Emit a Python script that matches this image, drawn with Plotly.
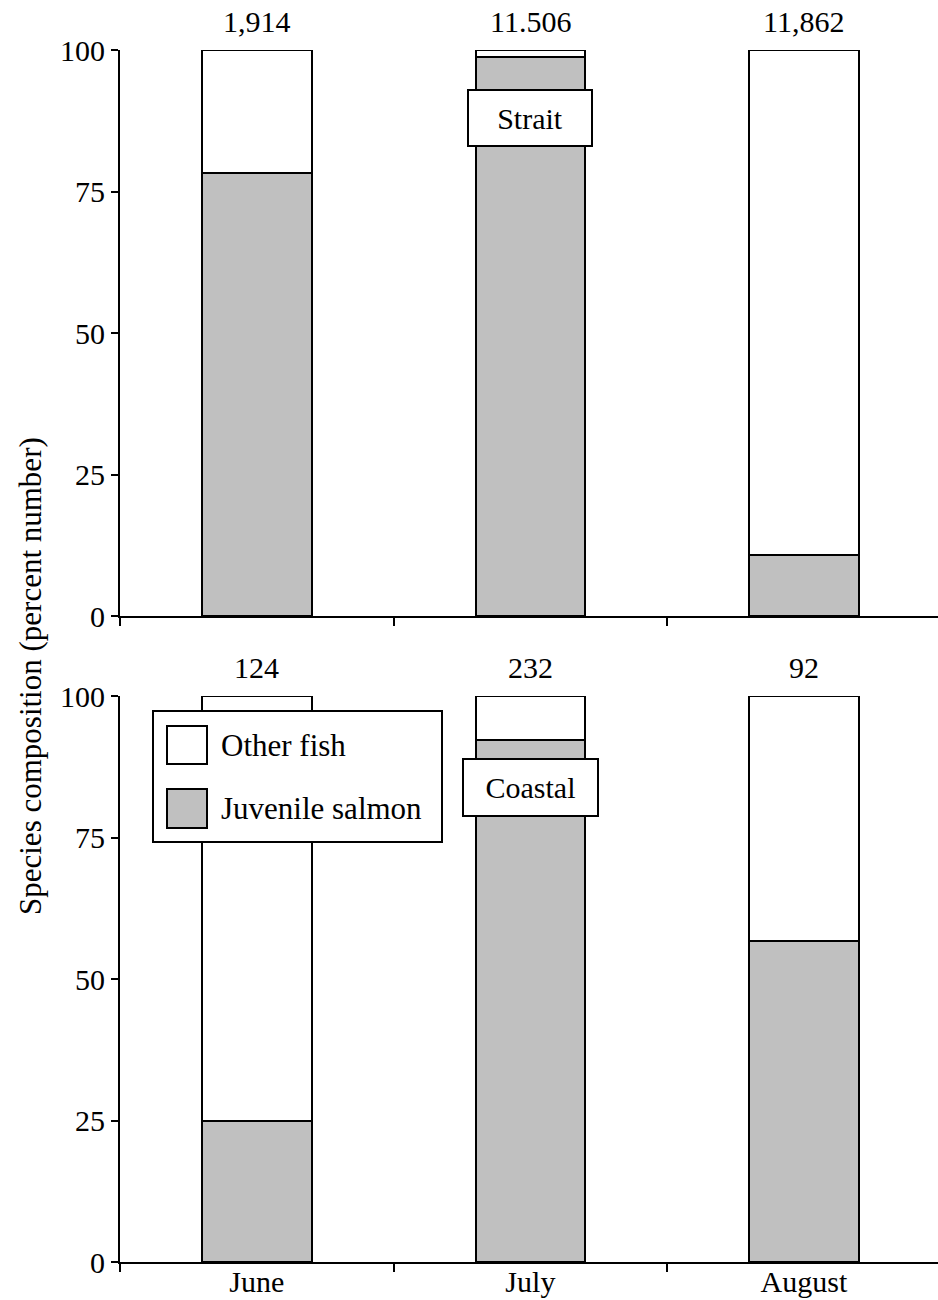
import plotly.graph_objects as go
from plotly.subplots import make_subplots

months = ["June", "July", "August"]
series_names = ["Other fish", "Juvenile salmon"]
strait_juvenile = [78.3, 98.8, 10.8]
coastal_juvenile = [25.0, 92.2, 56.7]
strait_counts = ["1,914", "11.506", "11,862"]
coastal_counts = ["124", "232", "92"]
panel_labels = ["Strait", "Coastal"]
y_ticks = [0, 25, 50, 75, 100]

W, H = 938, 1300
ML, MR, MT, MB = 120, 0, 50, 38
PW, PH = W - ML - MR, H - MT - MB
FONT = "Liberation Serif, Times New Roman, serif"
GRAY = "#c0c0c0"


def px(x):
    return (x - ML) / PW


def py(y):
    return 1 - (y - MT) / PH


fig = make_subplots(rows=2, cols=1)
xs = [0, 1, 2]
panels = [(strait_juvenile, strait_counts), (coastal_juvenile, coastal_counts)]
for i, (juv, counts) in enumerate(panels):
    row = i + 1
    other = [100 - v for v in juv]
    fig.add_trace(go.Bar(x=xs, y=juv, name=series_names[1], width=0.4,
                         marker=dict(color=GRAY, line=dict(color="black", width=2)),
                         showlegend=False), row=row, col=1)
    fig.add_trace(go.Bar(x=xs, y=other, name=series_names[0], width=0.4,
                         marker=dict(color="white", line=dict(color="black", width=2)),
                         showlegend=False), row=row, col=1)
    xref = "x" if i == 0 else "x2"
    yref = "y" if i == 0 else "y2"
    for x, c in zip(xs, counts):
        fig.add_annotation(x=x, y=100, xref=xref, yref=yref, text=c, showarrow=False,
                           yanchor="bottom", yshift=10, font=dict(size=30, color="black", family=FONT))

# panel label boxes
fig.add_annotation(x=1, y=88, xref="x", yref="y", text=panel_labels[0], showarrow=False,
                   bgcolor="white", bordercolor="black", borderwidth=2, borderpad=0,
                   width=122, height=54, font=dict(size=30, color="black", family=FONT))
fig.add_annotation(x=1, y=83.8, xref="x2", yref="y2", text=panel_labels[1], showarrow=False,
                   bgcolor="white", bordercolor="black", borderwidth=2, borderpad=0,
                   width=133, height=55, font=dict(size=30, color="black", family=FONT))

# legend drawn manually (large swatches)
fig.add_shape(type="rect", xref="paper", yref="paper", x0=px(153), x1=px(442), y0=py(842), y1=py(711),
              line=dict(color="black", width=2), fillcolor="white", layer="above")
sw = [("white", 726, 764, series_names[0]), (GRAY, 789, 828, series_names[1])]
for color, y0, y1, name in sw:
    fig.add_shape(type="rect", xref="paper", yref="paper", x0=px(167), x1=px(207), y0=py(y1), y1=py(y0),
                  line=dict(color="black", width=2), fillcolor=color, layer="above")
    fig.add_annotation(xref="paper", yref="paper", x=px(219), y=py((y0 + y1) / 2), text=name,
                       showarrow=False, xanchor="left", yanchor="middle",
                       font=dict(size=31, color="black", family=FONT))

# y title
fig.add_annotation(xref="paper", yref="paper", x=px(30), y=py(676), text="Species composition (percent number)",
                   textangle=-90, showarrow=False, xanchor="center", yanchor="middle",
                   font=dict(size=31, color="black", family=FONT))

gap = 80
ph = (PH - gap) / 2
axis_common = dict(showline=True, linecolor="black", linewidth=2, showgrid=False, zeroline=False)
for i in range(2):
    xa = "xaxis" if i == 0 else "xaxis2"
    ya = "yaxis" if i == 0 else "yaxis2"
    dom = [(ph + gap) / PH, 1] if i == 0 else [0, ph / PH]
    fig.layout[xa].update(**axis_common, range=[-0.5, 2.49], tickmode="array", tickvals=xs,
                          ticktext=months, ticks="", showticklabels=(i == 1), ticklabelstandoff=-8,
                          tickfont=dict(size=30, color="black", family=FONT), automargin=False,
                          minor=dict(tickmode="array", tickvals=[-0.5, 0.5, 1.5, 2.5], ticks="outside",
                                     ticklen=8, tickwidth=2, tickcolor="black", showgrid=False))
    fig.layout[ya].update(**axis_common, range=[0, 100], domain=dom, tickmode="array", tickvals=y_ticks,
                          ticks="outside", ticklen=7, tickwidth=2, tickcolor="black",
                          tickfont=dict(size=30, color="black", family=FONT), automargin=False)

fig.update_layout(width=W, height=H, margin=dict(l=ML, r=MR, t=MT, b=MB, pad=0),
                  barmode="stack", plot_bgcolor="white", paper_bgcolor="white",
                  font=dict(family=FONT, color="black"), showlegend=False)
fig.write_html("out.html")
